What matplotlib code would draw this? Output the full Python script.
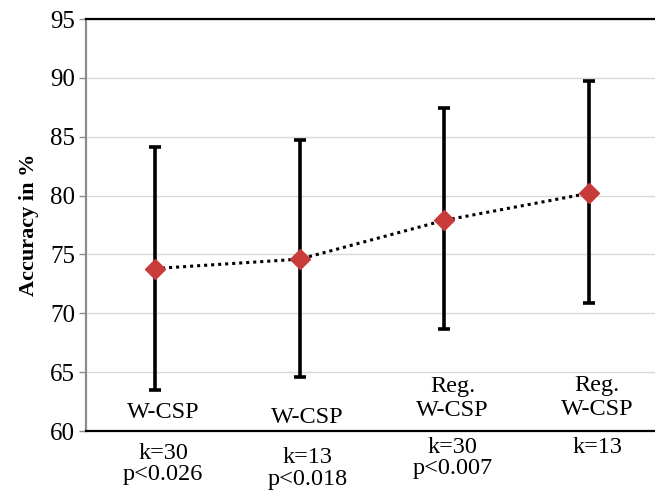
import matplotlib
matplotlib.use('Agg')
import matplotlib.pyplot as plt
from matplotlib import transforms

plt.rcParams['font.family'] = ['Liberation Serif', 'DejaVu Serif']

# data
methods = ['W-CSP', 'W-CSP', 'Reg.\nW-CSP', 'Reg.\nW-CSP']
params = ['k=30\np<0.026', 'k=13\np<0.018', 'k=30\np<0.007', 'k=13']
accuracy = [73.8, 74.6, 77.9, 80.2]
err_top = [84.1, 84.7, 87.4, 89.7]
err_bottom = [63.5, 64.6, 68.7, 70.9]

# label baselines (pixels from the top of the image), one per line
method_base = [[418], [423], [392, 416.5], [391.5, 415]]
param_base = [[459, 480], [463, 485], [453, 474], [453]]

x = list(range(len(accuracy)))
yerr = [[a - b for a, b in zip(accuracy, err_bottom)],
        [t - a for a, t in zip(accuracy, err_top)]]

fig = plt.figure(figsize=(6.55, 4.95), dpi=100)
ax = fig.add_axes([86 / 655, 1 - 431 / 495, 1 - 86 / 655, 412 / 495])

ax.errorbar(x, accuracy, yerr=yerr, fmt='none', ecolor='black',
            elinewidth=2.6, capsize=4.5, capthick=2.6, zorder=2)
ax.plot(x, accuracy, color='black', linestyle=(0, (1, 1.3)), linewidth=2.2,
        marker='D', markersize=10, markerfacecolor='#C83B3B',
        markeredgecolor='#C83B3B', zorder=3)

ax.set_ylim(60, 95)
ax.set_yticks(range(60, 96, 5))
ax.set_xlim(-0.477, 3.455)
ax.set_xticks([])
ax.yaxis.grid(True, color='#D9D9D9', linewidth=1)
ax.set_axisbelow(True)

for s in ['top', 'bottom']:
    ax.spines[s].set_color('black')
    ax.spines[s].set_linewidth(1.6)
ax.spines['left'].set_color('#8C8C8C')
ax.spines['left'].set_linewidth(1.6)
ax.spines['right'].set_visible(False)
ax.tick_params(axis='y', length=5, width=1, color='#8C8C8C', labelsize=18, pad=3)

ax.set_ylabel('Accuracy in %', fontsize=16, fontweight='bold', labelpad=8)

trans = transforms.blended_transform_factory(ax.transData, fig.transFigure)
shift = transforms.offset_copy(trans, fig=fig, x=8, y=0, units='dots')
for i in x:
    for line, b in zip(methods[i].split('\n'), method_base[i]):
        ax.text(i, 1 - b / 495, line, transform=shift, ha='center',
                va='baseline', fontsize=17.5, clip_on=False)
    for line, b in zip(params[i].split('\n'), param_base[i]):
        ax.text(i, 1 - b / 495, line, transform=shift, ha='center',
                va='baseline', fontsize=17.5, clip_on=False)

fig.savefig('out.png', dpi=100)
